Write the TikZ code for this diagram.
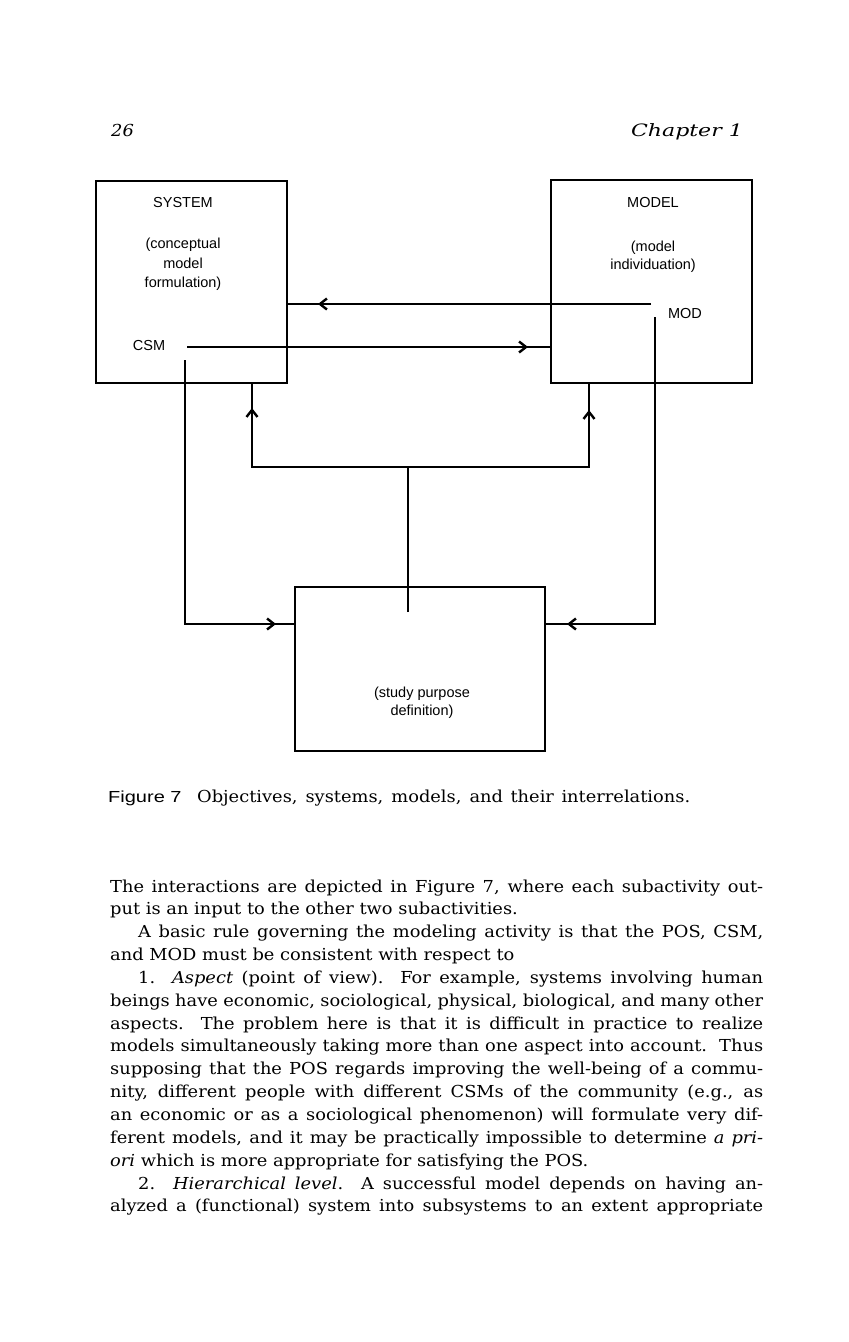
\documentclass[tikz,border=0pt]{standalone}
\usepackage{fontspec}
\setmainfont{DejaVu Serif}[FakeStretch=1.08]
\newfontfamily\labfont{Liberation Sans}
\newfontfamily\capsans{Liberation Sans}[FakeStretch=1.25]
\usetikzlibrary{arrows.meta,decorations.markings}
\newcommand{\jline}[4]{\node[txt] (#1) at (#2,#3) {\makebox[\dimexpr763pt-#2pt\relax][s]{#4}};}
\newcommand{\nline}[4]{\node[txt] (#1) at (#2,#3) {#4};}
\begin{document}
\begin{tikzpicture}[x=1pt,y=-1pt,
  box/.style={draw, line width=2pt, inner sep=0pt},
  lab/.style={font=\labfont\fontsize{14.5}{17}\selectfont, anchor=base, inner sep=0pt},
  txt/.style={font=\fontsize{16.5}{20}\selectfont, anchor=base west, inner sep=0pt},
  conn/.style={line width=2pt},
  arrowat/.style={postaction={decorate,decoration={markings,
     mark=at position #1pt with {\arrow{Straight Barb[length=7pt,width=11pt,line width=2.4pt]}}}}}]
\useasboundingbox (0,0) rectangle (849,1342);
\fill[white] (0,0) rectangle (849,1342);

% header
\node[txt, font=\fontsize{16.5}{20}\selectfont\itshape] (pg) at (111,136) {26};
\node[txt, font=\fontsize{17}{20}\selectfont\itshape, anchor=base east] (chap) at (743,136) {\scalebox{1.2}[1]{Chapter 1}};

% boxes
\node[box, minimum width=191pt, minimum height=202pt] (sys) at (191.5,282) {};
\node[box, minimum width=201pt, minimum height=203pt] (mdl) at (651.5,281.5) {};
\node[box, minimum width=250pt, minimum height=164pt] (pur) at (420,669) {};

% labels
\node[lab] (s1) at (183,207) {SYSTEM};
\node[lab] (s2) at (183,248) {(conceptual};
\node[lab] (s3) at (183,268) {model};
\node[lab] (s4) at (183,287) {formulation)};
\node[lab] (csm) at (149,350) {CSM};
\node[lab] (m1) at (653,207) {MODEL};
\node[lab] (m2) at (653,251) {(model};
\node[lab] (m3) at (653,269) {individuation)};
\node[lab] (mod) at (685,318) {MOD};
\node[lab] (p1) at (422,697) {(study purpose};
\node[lab] (p2) at (422,715) {definition)};

% connector end points
\coordinate (csmout) at (187,347);
\coordinate (modfb) at (651,304);
\coordinate (csmdown) at (185,360);
\coordinate (moddown) at (655,317);
\coordinate (lowy) at (0,624);
\coordinate (purin) at (408,612);
\coordinate (junc) at (408,467);
\coordinate (lx) at (252,0);
\coordinate (rx) at (589,0);

% connectors
\draw[conn, arrowat=341] (csmout) -- (csmout -| mdl.west);
\draw[conn, arrowat=333] (modfb) -- (modfb -| sys.east);
\draw[conn, arrowat=355] (csmdown) |- (lowy -| pur.west);
\draw[conn, arrowat=395] (moddown) |- (lowy -| pur.east);
\draw[conn] (purin) -- (junc);
\draw[conn, arrowat=215] (junc) -| (lx |- sys.south);
\draw[conn, arrowat=238] (junc) -| (rx |- mdl.south);

% caption
\node[txt] (cap1) at (108,802) {\capsans\fontsize{16}{20}\selectfont Figure 7};
\node[txt] (cap2) at (197,802) {\makebox[493pt][s]{Objectives, systems, models, and their interrelations.}};

% body text
\jline{l0}{110}{892}{The interactions are depicted in Figure 7, where each subactivity out-}
\nline{l1}{110}{914.85}{put is an input to the other two subactivities.}
\jline{l2}{138}{937.7}{A basic rule governing the modeling activity is that the POS, CSM,}
\nline{l3}{110}{960.55}{and MOD must be consistent with respect to}
\jline{l4}{138}{983.4}{1.\ \ \textit{Aspect} (point of view).\ \ For example, systems involving human}
\jline{l5}{110}{1006.25}{beings have economic, sociological, physical, biological, and many other}
\jline{l6}{110}{1029.1}{aspects.\ \ The problem here is that it is difficult in practice to realize}
\jline{l7}{110}{1051.95}{models simultaneously taking more than one aspect into account.\ \ Thus}
\jline{l8}{110}{1074.8}{supposing that the POS regards improving the well-being of a commu-}
\jline{l9}{110}{1097.65}{nity, different people with different CSMs of the community (e.g., as}
\jline{l10}{110}{1120.5}{an economic or as a sociological phenomenon) will formulate very dif-}
\jline{l11}{110}{1143.35}{ferent models, and it may be practically impossible to determine \textit{a pri-}}
\nline{l12}{110}{1166.2}{\textit{ori} which is more appropriate for satisfying the POS.}
\jline{l13}{138}{1189.05}{2.\ \ \textit{Hierarchical level}.\ \ A successful model depends on having an-}
\jline{l14}{110}{1211.9}{alyzed a (functional) system into subsystems to an extent appropriate}
\end{tikzpicture}
\end{document}
